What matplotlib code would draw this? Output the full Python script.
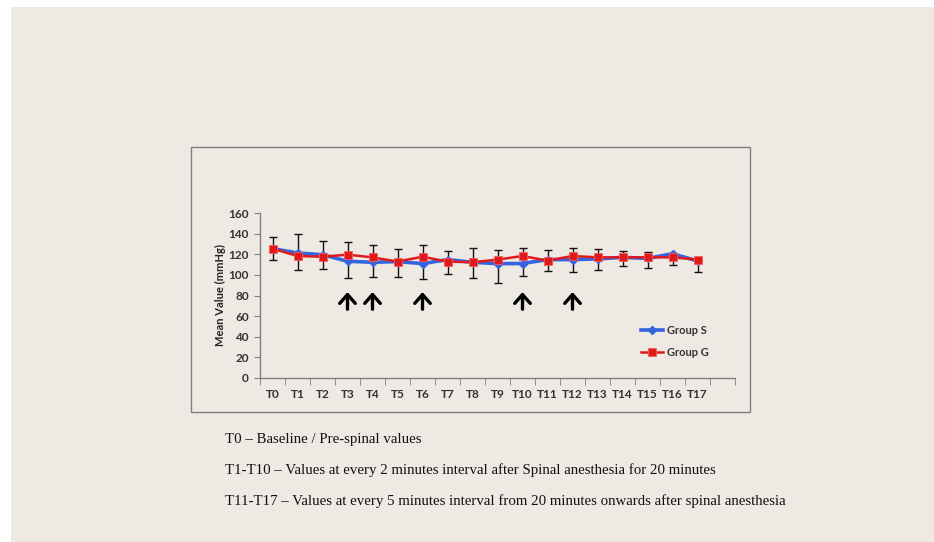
import matplotlib.pyplot as plt
from matplotlib.patches import Rectangle

W, H = 934, 542

labels = ["T0", "T1", "T2", "T3", "T4", "T5", "T6", "T7", "T8", "T9",
          "T10", "T11", "T12", "T13", "T14", "T15", "T16", "T17"]
group_s = [125.5, 121.2, 119.6, 113.2, 112.2, 112.9, 110.9, 114.8, 112.2,
           110.9, 111.0, 114.8, 114.8, 115.5, 117.0, 116.0, 120.5, 113.5]
group_g = [125.5, 118.3, 117.6, 119.6, 117.0, 112.9, 117.6, 112.9, 112.2,
           114.8, 118.3, 113.8, 118.3, 117.0, 117.0, 117.0, 117.0, 114.8]
err_hi = [137, 140, 133, 132, 129, 125, 129, 123, 126.4, 123.8,
          126.4, 123.8, 126.0, 125.5, 122.9, 121.9, 121.5, 114.8]
err_lo = [114, 105, 106, 97, 98, 98, 96, 101, 96.7, 92.5,
          98.6, 103.5, 102.5, 105.0, 108.6, 106.7, 110.0, 102.5]
arrow_at = ["T3", "T4", "T6", "T10", "T12"]
notes = [
    "T0 \u2013 Baseline / Pre-spinal values",
    "T1-T10 \u2013 Values at every 2 minutes interval after Spinal anesthesia for 20 minutes",
    "T11-T17 \u2013 Values at every 5 minutes interval from 20 minutes onwards after spinal anesthesia",
]

BG = "#efe9e3"
TXT = "#333333"

fig = plt.figure(figsize=(W / 100, H / 100), dpi=100, facecolor="white")
fig.patches.append(Rectangle((11 / W, 0), 1 - 11 / W, 1 - 7 / H,
                             transform=fig.transFigure, facecolor=BG,
                             edgecolor="none", zorder=-10))
# chart frame
fig.patches.append(Rectangle((191 / W, 1 - 412 / H), 559 / W, 265 / H,
                             transform=fig.transFigure, facecolor="none",
                             edgecolor="#7f7f7f", lw=1.0, zorder=-5))

ax = fig.add_axes([260 / W, 1 - 378 / H, 475 / W, 165 / H])
ax.set_facecolor("none")

x = list(range(len(labels)))
mid = [(h + l) / 2 for h, l in zip(err_hi, err_lo)]
half = [(h - l) / 2 for h, l in zip(err_hi, err_lo)]
ax.errorbar(x, mid, yerr=half, fmt="none", ecolor="#111111",
            elinewidth=1.0, capsize=3, capthick=1.0, zorder=2)
ax.plot(x, group_s, color="#3464e0", lw=2.6, marker="D", ms=4.5,
        label="Group S", zorder=3)
ax.plot(x, group_g, color="#e01a1a", lw=1.8, marker="s", ms=6,
        markeredgecolor="#f06060", markeredgewidth=0.6, label="Group G", zorder=4)

for lab in arrow_at:
    i = labels.index(lab)
    ax.annotate("", xy=(i, 86), xytext=(i, 64),
                arrowprops=dict(arrowstyle="->,head_length=0.45,head_width=0.4",
                                lw=2.4, color="black", mutation_scale=14))

ax.set_xlim(-0.5, 18.5)
ax.set_ylim(0, 160)
ax.set_yticks(range(0, 161, 20))
ax.set_xticks(x)
ax.set_xticklabels(labels)
ax.set_xticks([i - 0.5 for i in range(20)], minor=True)
ax.tick_params(axis="x", which="major", length=0, pad=8)
ax.tick_params(axis="x", which="minor", length=5, color="#7f7f7f", direction="out")
ax.tick_params(axis="y", length=4, color="#7f7f7f", direction="out", pad=4)
for t in ax.get_xticklabels() + ax.get_yticklabels():
    t.set_fontfamily("Lato")
    t.set_fontweight("bold")
    t.set_fontsize(8.5)
    t.set_color(TXT)

for side in ["top", "right"]:
    ax.spines[side].set_visible(False)
for side in ["left", "bottom"]:
    ax.spines[side].set_color("#7f7f7f")
    ax.spines[side].set_linewidth(1.0)

ax.set_ylabel("Mean Value (mmHg)", fontfamily="Lato", fontweight="bold",
              fontsize=8, color="#222222", labelpad=2)

leg = ax.legend(loc="center left", bbox_to_anchor=(0.781, 0.22), frameon=False,
                handlelength=2.0, labelspacing=1.0, handletextpad=0.3,
                prop={"family": "Lato", "weight": "bold", "size": 8})
for t in leg.get_texts():
    t.set_color(TXT)

for k, line in enumerate(notes):
    fig.text(225 / W, 1 - (439 + 31 * k) / H, line, fontfamily="Liberation Serif",
             fontsize=10.7, color="#111111", va="center", ha="left")

fig.savefig("out.png", dpi=100, facecolor=fig.get_facecolor())
